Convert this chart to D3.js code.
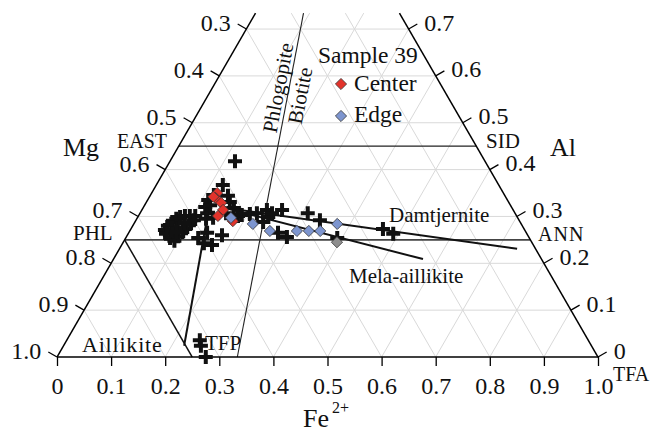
<!DOCTYPE html>
<html>
<head>
<meta charset="utf-8">
<script src="https://cdn.jsdelivr.net/npm/d3@7"></script>
<style>
  html, body { margin: 0; padding: 0; background: #fff; }
  svg text { font-family: "Liberation Serif", Tinos, "Times New Roman", Times, "Nimbus Roman", "DejaVu Serif", serif; fill: #111; }
</style>
</head>
<body>
<svg id="chart" width="661" height="432"></svg>
<script>
// ---------- data (ternary fractions: Fe2+, Al; Mg = 1 - Fe - Al) ----------
const gridValues = [0.1, 0.2, 0.3, 0.4, 0.5, 0.6, 0.7, 0.8, 0.9];
const bottomTicks = [0, 0.1, 0.2, 0.3, 0.4, 0.5, 0.6, 0.7, 0.8, 0.9, 1.0];
const bottomLabels = ["0", "0.1", "0.2", "0.3", "0.4", "0.5", "0.6", "0.7", "0.8", "0.9", "1.0"];
const sideTicks = [0, 0.1, 0.2, 0.3, 0.4, 0.5, 0.6, 0.7];            // Al level
const leftLabels = ["1.0", "0.9", "0.8", "0.7", "0.6", "0.5", "0.4", "0.3"]; // Mg
const rightLabels = ["0", "0.1", "0.2", "0.3", "0.4", "0.5", "0.6", "0.7"];  // Al
const alTop = 0.734;  // diagram truncated at this Al level

// black crosses: other samples [Fe, Al]
const crossPoints = [
  [0.064,0.271],[0.065,0.280],[0.069,0.288],[0.073,0.295],[0.078,0.299],[0.086,0.301],
  [0.095,0.301],[0.105,0.301],[0.070,0.263],[0.082,0.254],[0.093,0.248],[0.095,0.258],
  [0.098,0.267],[0.101,0.275],[0.104,0.284],[0.107,0.292],[0.077,0.271],[0.086,0.275],
  [0.092,0.286],[0.087,0.267],
  [0.123,0.367],[0.112,0.335],[0.114,0.320],[0.124,0.307],[0.128,0.295],[0.140,0.297],
  [0.121,0.324],[0.144,0.344],[0.154,0.331],[0.168,0.318],[0.184,0.301],[0.159,0.307],
  [0.117,0.346],
  [0.134,0.254],[0.145,0.265],[0.167,0.239],[0.175,0.260],[0.150,0.243],
  [0.190,0.303],[0.216,0.307],[0.231,0.314],[0.259,0.314],[0.237,0.288],[0.241,0.299],
  [0.276,0.265],[0.297,0.256],[0.204,0.305],[0.244,0.307],
  [0.310,0.307],[0.340,0.292],[0.391,0.254],[0.466,0.273],[0.490,0.263],
  [0.120,0.418],
  [0.246,0.036],[0.254,0.024],[0.275,0.000]
];
// Sample 39
const centerPoints = [[0.121,0.350],[0.124,0.339],[0.139,0.329],[0.150,0.314],[0.147,0.301],[0.180,0.290],[0.118,0.342]];
const edgePoints = [[0.173,0.297],[0.220,0.284],[0.259,0.269],[0.309,0.269],[0.331,0.269],[0.352,0.269],[0.376,0.284]];
const grayPoints = [[0.395,0.245]];

// reference lines [Fe, Al] pairs
const eastSid = [[0, 0.45], [0.55, 0.45]];
const phlAnn = [[0, 0.25], [0.75, 0.25]];
const aillikiteField = [[0, 0.25], [0.25, 0]];
const phlBioLine = [[1/3, 0], [(1 - alTop) / 3, alTop]];
const aillikiteTrend = [[0.129, 0.297], [0.223, 0.024]];
const damtjerniteTrend = [[0.152, 0.318], [0.735, 0.231]];
const melaTrend = [[0.152, 0.318], [0.572, 0.209]];

// ---------- drawing ----------
const FONT = '"Liberation Serif", Tinos, "Times New Roman", Times, "Nimbus Roman", "DejaVu Serif", serif';
const svg = d3.select("#chart");
const x = d3.scaleLinear().domain([0, 1]).range([57, 598]);
const y = d3.scaleLinear().domain([0, 1]).range([357, 357 - 468.5]);
const P = (fe, al) => [x(fe + al / 2), y(al)];
const line = d3.line().x(d => P(d[0], d[1])[0]).y(d => P(d[0], d[1])[1]);

function seg(pts, color, w) {
  svg.append("path").attr("d", line(pts)).attr("fill", "none")
    .attr("stroke", color).attr("stroke-width", w);
}

// grid
const grid = svg.append("g").attr("stroke", "#d9d9d9").attr("stroke-width", 1).attr("fill", "none");
gridValues.forEach(v => {
  if (v < alTop) grid.append("path").attr("d", line([[0, v], [1 - v, v]]));
  const a1 = Math.min(1 - v, alTop);
  grid.append("path").attr("d", line([[v, 0], [v, a1]]));            // constant Fe
  grid.append("path").attr("d", line([[1 - v, 0], [1 - v - a1, a1]])); // constant Mg
});

// reference lines
seg(eastSid, "#222", 1.3);
seg(phlAnn, "#444", 1.6);
seg(aillikiteField, "#111", 1.5);
seg(phlBioLine, "#222", 1.1);

// edges
seg([[0, 0], [1, 0]], "#000", 1.5);
seg([[0, 0], [0, alTop]], "#000", 1.5);
seg([[1, 0], [1 - alTop, alTop]], "#000", 1.5);

// bottom axis
const axis = d3.axisBottom(x).tickValues(bottomTicks).tickSize(9).tickPadding(11)
  .tickFormat((d, i) => bottomLabels[i]);
const ag = svg.append("g").attr("transform", `translate(0,${y(0)})`).call(axis)
  .attr("font-family", FONT).attr("font-size", 24);
ag.select(".domain").remove();
ag.selectAll(".tick line").attr("stroke", "#000").attr("stroke-width", 1.3);
ag.selectAll(".tick text").style("font-family", FONT).style("font-size", "24px").attr("fill", "#111");

// side ticks
const tl = 10, c30 = Math.cos(Math.PI / 6), s30 = 0.5;
sideTicks.forEach((a, i) => {
  const [lx, ly] = P(0, a);
  svg.append("line").attr("x1", lx).attr("y1", ly).attr("x2", lx - tl * c30).attr("y2", ly - tl * s30)
    .attr("stroke", "#000").attr("stroke-width", 1.3);
  svg.append("text").attr("x", lx - tl * c30 - 7).attr("y", ly - tl * s30 + 7)
    .attr("text-anchor", "end").style("font-size", "24px").text(leftLabels[i]);
  const [rx, ry] = P(1 - a, a);
  svg.append("line").attr("x1", rx).attr("y1", ry).attr("x2", rx + tl * c30).attr("y2", ry - tl * s30)
    .attr("stroke", "#000").attr("stroke-width", 1.3);
  svg.append("text").attr("x", rx + tl * c30 + 7).attr("y", ry - tl * s30 + 6.5)
    .attr("text-anchor", "start").style("font-size", "24px").text(rightLabels[i]);
});

// trend lines
seg(aillikiteTrend, "#111", 2);
seg(damtjerniteTrend, "#111", 2);
seg(melaTrend, "#111", 2);

// markers
const cross = "M-7,0H7M0,-7V7";
svg.append("g").selectAll("path").data(crossPoints).join("path")
  .attr("d", cross).attr("transform", d => `translate(${P(d[0], d[1])})`)
  .attr("stroke", "#111").attr("stroke-width", 4).attr("fill", "none");
const diamond = "M0,-5.6L5.6,0L0,5.6L-5.6,0Z";
function diamonds(data, fill) {
  svg.append("g").selectAll("path").data(data).join("path")
    .attr("d", diamond).attr("transform", d => `translate(${P(d[0], d[1])})`)
    .attr("fill", fill).attr("stroke", "#333").attr("stroke-width", 0.8);
}
diamonds(centerPoints, "#e2332b");
diamonds(edgePoints, "#7d95cf");
diamonds(grayPoints, "#8e8e8e");

// labels
function label(tx, ty, txt, size, anchor, ls) {
  return svg.append("text").attr("x", tx).attr("y", ty).attr("text-anchor", anchor || "start")
    .style("font-size", size + "px").style("letter-spacing", (ls || 0) + "px").text(txt);
}
label(63, 156, "Mg", 26);
label(550, 156, "Al", 26);
label(167, 148, "EAST", 20, "end");
label(486, 148, "SID", 21);
label(73, 240, "PHL", 21);
label(538, 240.5, "ANN", 20, "start", 1);
label(82, 352, "Aillikite", 22, "start", 0.8);
label(205, 350, "TFP", 21);
label(389, 222, "Damtjernite", 21);
label(349, 283, "Mela-aillikite", 21);
label(613, 381, "TFA", 20);
label(303, 427, "Fe", 26);
label(332, 413, "2+", 16);

// legend
label(318, 63, "Sample 39", 23.5);
label(354, 91, "Center", 23.5);
label(354, 122, "Edge", 23.5);
svg.append("path").attr("d", diamond).attr("transform", "translate(341,84)")
  .attr("fill", "#e2332b").attr("stroke", "#333").attr("stroke-width", 0.8);
svg.append("path").attr("d", diamond).attr("transform", "translate(341,116)")
  .attr("fill", "#7d95cf").attr("stroke", "#333").attr("stroke-width", 0.8);

// rotated labels along Phlogopite/Biotite divider
const p0 = P(phlBioLine[0][0], phlBioLine[0][1]), p1 = P(phlBioLine[1][0], phlBioLine[1][1]);
const ang = Math.atan2(p1[1] - p0[1], p1[0] - p0[0]) * 180 / Math.PI;
svg.append("text").attr("text-anchor", "middle").style("font-size", "21px")
  .attr("transform", `translate(285,89) rotate(${ang})`).text("Phlogopite");
svg.append("text").attr("text-anchor", "middle").style("font-size", "21px")
  .attr("transform", `translate(307,97) rotate(${ang})`).text("Biotite");
</script>
</body>
</html>
